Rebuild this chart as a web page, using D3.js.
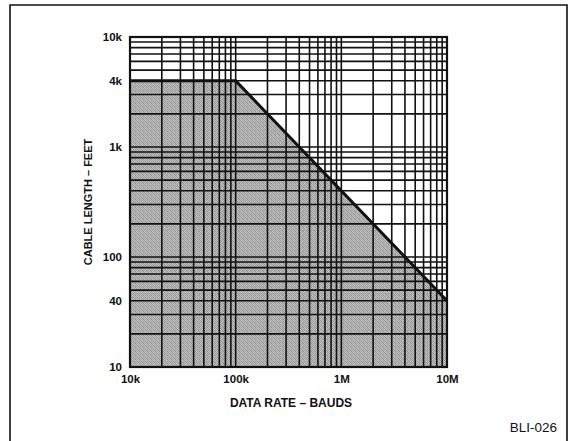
<!DOCTYPE html>
<html>
<head>
<meta charset="utf-8">
<script src="https://cdn.jsdelivr.net/npm/d3@7"></script>
<style>
  html, body { margin: 0; padding: 0; background: #fff; }
  svg { display: block; }
  text { font-family: "Liberation Sans", Arial, sans-serif; fill: #111; }
</style>
</head>
<body>
<svg id="chart" width="570" height="441"></svg>
<script>
// Maximum cable length vs. data rate (log-log)
const xTickValues = [1e4, 1e5, 1e6, 1e7];
const xTickLabels = ["10k", "100k", "1M", "10M"];
const yTickValues = [10, 40, 100, 1000, 4000, 10000];
const yTickLabels = ["10", "40", "100", "1k", "4k", "10k"];
// Boundary of the operating region: data rate (bauds), cable length (feet)
const boundaryRate = [1e4, 1e5, 1e7];
const boundaryLength = [4000, 4000, 40];

const svg = d3.select("#chart");
const m = { left: 130, right: 447, top: 37, bottom: 367 };

const x = d3.scaleLog().domain([1e4, 1e7]).range([m.left, m.right]);
const y = d3.scaleLog().domain([10, 1e4]).range([m.bottom, m.top]);

// Outer frame
svg.append("path")
  .attr("d", `M10,445 L10,5 L567,5 L567,445`)
  .attr("fill", "none").attr("stroke", "#111").attr("stroke-width", 1.6);

// Halftone screen for the shaded region (fixed 4x4 tile of grey levels)
const tile = [
  "#9c9c9c", "#c2c2c2", "#a8a8a8", "#b8b8b8",
  "#bcbcbc", "#8e8e8e", "#c6c6c6", "#a0a0a0",
  "#a4a4a4", "#bebebe", "#969696", "#b4b4b4",
  "#c4c4c4", "#a6a6a6", "#b6b6b6", "#929292"
];
const pat = svg.append("defs").append("pattern").attr("id", "screen")
  .attr("width", 4).attr("height", 4).attr("patternUnits", "userSpaceOnUse");
pat.selectAll("rect").data(tile).join("rect")
  .attr("x", (d, i) => i % 4).attr("y", (d, i) => Math.floor(i / 4))
  .attr("width", 1).attr("height", 1).attr("fill", d => d);

// Shaded region under the boundary
const pts = boundaryRate.map((r, i) => [x(r), y(boundaryLength[i])]);
const area = [[x(1e4), y(10)], ...pts, [x(1e7), y(10)]];
svg.append("path")
  .attr("d", d3.line()(area) + "Z")
  .attr("fill", "url(#screen)");

// Log grid
const xGrid = x.ticks(30);
const yGrid = y.ticks(30);
svg.append("g").selectAll("line").data(xGrid).join("line")
  .attr("x1", d => x(d)).attr("x2", d => x(d))
  .attr("y1", m.top).attr("y2", m.bottom)
  .attr("stroke", "#111").attr("stroke-width", 1.6);
svg.append("g").selectAll("line").data(yGrid).join("line")
  .attr("y1", d => y(d)).attr("y2", d => y(d))
  .attr("x1", m.left).attr("x2", m.right)
  .attr("stroke", "#111").attr("stroke-width", 1.6);

// Plot frame
svg.append("rect")
  .attr("x", m.left).attr("y", m.top)
  .attr("width", m.right - m.left).attr("height", m.bottom - m.top)
  .attr("fill", "none").attr("stroke", "#111").attr("stroke-width", 2.2);

// Boundary line
svg.append("path")
  .attr("d", d3.line()(pts))
  .attr("fill", "none").attr("stroke", "#111").attr("stroke-width", 3);

// Axes labels
const xAxis = d3.axisBottom(x).tickValues(xTickValues)
  .tickFormat((d, i) => xTickLabels[i]).tickSize(0).tickPadding(8);
const gx = svg.append("g").attr("transform", `translate(0,${m.bottom})`).call(xAxis);
gx.select(".domain").remove();
gx.selectAll("text").attr("font-size", 11.5).attr("font-weight", "bold")
  .style("font-family", "'Liberation Sans', Arial, sans-serif").attr("fill", "#111");

const yAxis = d3.axisLeft(y).tickValues(yTickValues)
  .tickFormat((d, i) => yTickLabels[i]).tickSize(0).tickPadding(8);
const gy = svg.append("g").attr("transform", `translate(${m.left},0)`).call(yAxis);
gy.select(".domain").remove();
gy.selectAll("text").attr("font-size", 11.5).attr("font-weight", "bold")
  .style("font-family", "'Liberation Sans', Arial, sans-serif").attr("fill", "#111");

svg.append("text")
  .attr("x", 291).attr("y", 407)
  .attr("text-anchor", "middle").attr("font-size", 12).attr("font-weight", "bold")
  .text("DATA RATE – BAUDS");

svg.append("text")
  .attr("transform", `translate(92,${(m.top + m.bottom) / 2}) rotate(-90)`)
  .attr("text-anchor", "middle").attr("font-size", 11).attr("font-weight", "bold")
  .text("CABLE LENGTH – FEET");

svg.append("text")
  .attr("x", 557).attr("y", 432)
  .attr("text-anchor", "end").attr("font-size", 13.5)
  .text("BLI-026");
</script>
</body>
</html>
